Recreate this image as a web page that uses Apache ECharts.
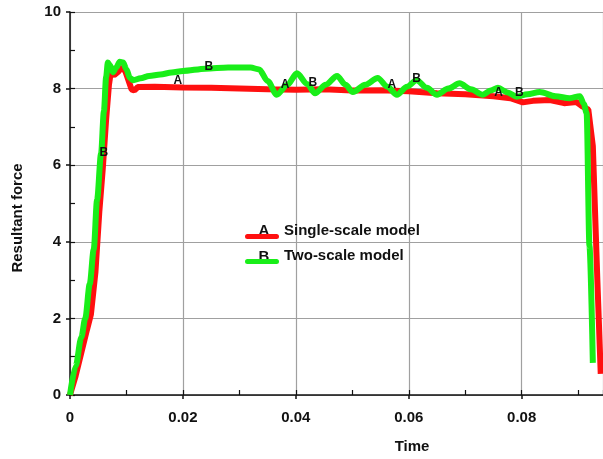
<!DOCTYPE html>
<html>
<head>
<meta charset="utf-8">
<script src="https://cdn.jsdelivr.net/npm/echarts@6/dist/echarts.min.js"></script>
<style>html,body{margin:0;padding:0;background:#fff}#c{width:603px;height:459px}</style>
</head>
<body>
<div id="c"></div>
<script>
var seriesNames = ['Single-scale model', 'Two-scale model'];
var singleScale = [[0,0],[0.001,0.5],[0.002,1.1],[0.003,1.7],[0.0037,2.1],[0.0045,3.2],[0.0052,4.8],[0.0058,5.9],[0.0064,7.2],[0.0069,8.1],[0.0072,8.4],[0.0078,8.35],[0.0086,8.45],[0.0092,8.56],[0.0098,8.45],[0.0104,8.2],[0.0109,7.98],[0.0114,7.95],[0.012,8.04],[0.015,8.05],[0.02,8.03],[0.025,8.02],[0.03,8.0],[0.035,7.98],[0.04,7.97],[0.045,7.98],[0.05,7.95],[0.055,7.96],[0.06,7.93],[0.065,7.88],[0.07,7.85],[0.075,7.8],[0.078,7.75],[0.0802,7.64],[0.082,7.68],[0.085,7.7],[0.0875,7.62],[0.0897,7.65],[0.0906,7.55],[0.0918,7.45],[0.0926,6.5],[0.0934,3.0],[0.094,0.55]];
var twoScale = [[0,0],[0.001,0.75],[0.002,1.5],[0.0027,2.0],[0.0035,2.9],[0.0042,3.8],[0.0048,5.1],[0.0055,6.3],[0.006,7.4],[0.0064,8.3],[0.0067,8.68],[0.0071,8.6],[0.0076,8.43],[0.0082,8.55],[0.0088,8.7],[0.0094,8.68],[0.01,8.5],[0.0106,8.28],[0.0112,8.22],[0.0125,8.27],[0.014,8.33],[0.016,8.37],[0.018,8.42],[0.02,8.46],[0.024,8.52],[0.028,8.55],[0.032,8.55],[0.0335,8.5],[0.035,8.2],[0.0366,7.84],[0.0385,8.1],[0.0402,8.4],[0.042,8.12],[0.0434,7.88],[0.0453,8.1],[0.0473,8.33],[0.0488,8.1],[0.0501,7.91],[0.0523,8.1],[0.0545,8.28],[0.0562,8.05],[0.0579,7.84],[0.0597,8.05],[0.0614,8.22],[0.0632,8.02],[0.065,7.84],[0.067,8.0],[0.069,8.14],[0.071,7.98],[0.0731,7.84],[0.0745,7.95],[0.0758,8.02],[0.0775,7.9],[0.0791,7.79],[0.081,7.85],[0.0832,7.91],[0.086,7.8],[0.0885,7.75],[0.0903,7.8],[0.091,7.6],[0.0915,7.36],[0.092,3.9],[0.0926,0.84]];
var markA = [[0.0191,8.2],[0.0381,8.09],[0.057,8.09],[0.0759,7.89]];
var markB = [[0.006,6.32],[0.0246,8.56],[0.043,8.15],[0.0614,8.25],[0.0796,7.89]];
var xTicks = [0, 0.02, 0.04, 0.06, 0.08];
var yTicks = [0, 2, 4, 6, 8, 10];
var xTitle = 'Time';
var yTitle = 'Resultant force';

var FONT = '"Liberation Sans", Arial, sans-serif';
function marks(arr, letter) {
  return {
    symbol: 'circle', symbolSize: 2,
    itemStyle: {color: 'rgba(0,0,0,0)'},
    label: {show: true, position: 'inside', formatter: letter, color: '#111', fontSize: 12, fontWeight: 'bold', fontFamily: FONT},
    data: arr.map(function (p) { return {coord: p}; })
  };
}
var legendIcon = 'path://M0,0L34,0L34,0.01L0,0.01Z M2.5,12L31.5,12A2.5,2.5 0 0 1 31.5,17L2.5,17A2.5,2.5 0 0 1 2.5,12Z';
var chart = echarts.init(document.getElementById('c'), null, {renderer: 'canvas'});
chart.setOption({
  animation: false,
  backgroundColor: '#fff',
  grid: {left: 70, top: 12, right: 0, bottom: 64},
  xAxis: [{
    type: 'value', min: 0, max: 0.0944, interval: 0.02,
    axisLine: {show: true, lineStyle: {color: '#111', width: 1.5}},
    axisTick: {show: true, length: 4, lineStyle: {color: '#111', width: 1.5}},
    axisLabel: {showMaxLabel: false, margin: 15, color: '#111', fontSize: 15, fontWeight: 'bold', fontFamily: FONT,
      formatter: function (v) { var r = Math.round(v * 100) / 100; return xTicks.indexOf(r) >= 0 ? String(r) : ''; }},
    splitLine: {show: true, lineStyle: {color: '#a0a0a0', width: 1.2}}
  }, {
    type: 'value', min: 0, max: 0.0944, interval: 0.01, position: 'bottom',
    axisLine: {show: false}, axisLabel: {show: false}, splitLine: {show: false},
    axisTick: {show: true, inside: true, length: 5, lineStyle: {color: '#111', width: 1.2}}
  }],
  yAxis: [{
    type: 'value', min: 0, max: 10, interval: 2,
    axisLine: {show: true, lineStyle: {color: '#111', width: 1.5}},
    axisTick: {show: true, length: 4, lineStyle: {color: '#111', width: 1.5}},
    axisLabel: {margin: 9, color: '#111', fontSize: 15, fontWeight: 'bold', fontFamily: FONT,
      formatter: function (v) { return yTicks.indexOf(v) >= 0 ? String(v) : ''; }},
    splitLine: {show: true, lineStyle: {color: '#a0a0a0', width: 1.2}}
  }, {
    type: 'value', min: 0, max: 10, interval: 1, position: 'left',
    axisLine: {show: false}, axisLabel: {show: false}, splitLine: {show: false},
    axisTick: {show: true, inside: true, length: 5, lineStyle: {color: '#111', width: 1.2}}
  }],
  legend: {
    orient: 'vertical', left: 245, top: 222, padding: 0, itemWidth: 34, itemHeight: 18, itemGap: 8,
    icon: legendIcon,
    data: seriesNames,
    textStyle: {color: '#111', fontSize: 15, fontWeight: 'bold', fontFamily: FONT}
  },
  graphic: [
    {type: 'text', x: 18, y: 218, rotation: Math.PI / 2, style: {text: yTitle, fill: '#111', font: 'bold 15px ' + FONT, textAlign: 'center', textVerticalAlign: 'middle'}},
    {type: 'text', style: {text: xTitle, fill: '#111', font: 'bold 15px ' + FONT, textAlign: 'center', textVerticalAlign: 'middle'}, x: 412, y: 447},
    {type: 'text', style: {text: 'A', fill: '#111', font: 'bold 15px ' + FONT, textAlign: 'center', textVerticalAlign: 'middle'}, x: 264, y: 231},
    {type: 'text', style: {text: 'B', fill: '#111', font: 'bold 15px ' + FONT, textAlign: 'center', textVerticalAlign: 'middle'}, x: 264, y: 257}
  ],
  series: [{
    name: seriesNames[0], type: 'line', data: singleScale, showSymbol: false, z: 2,
    lineStyle: {color: '#ff1010', width: 6}, itemStyle: {color: '#ff1010'},
    markPoint: marks(markA, 'A')
  }, {
    name: seriesNames[1], type: 'line', data: twoScale, showSymbol: false, z: 3,
    smooth: 0.3, smoothMonotone: 'x',
    lineStyle: {color: '#19ee19', width: 6}, itemStyle: {color: '#19ee19'},
    markPoint: marks(markB, 'B')
  }]
});
</script>
</body>
</html>
